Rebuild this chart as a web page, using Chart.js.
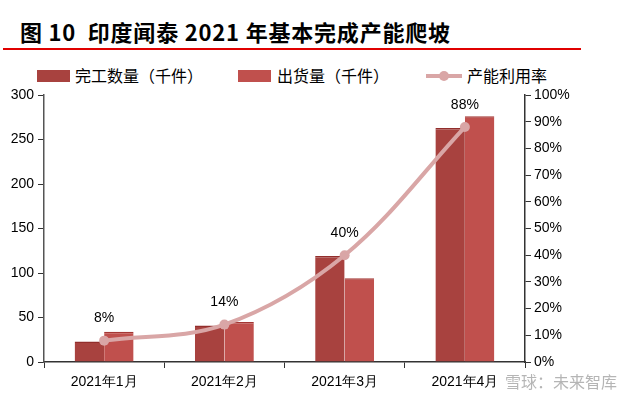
<!DOCTYPE html>
<html>
<head>
<meta charset="utf-8">
<script src="https://cdn.jsdelivr.net/npm/chart.js@4"></script>
<style>
  html, body { margin: 0; padding: 0; background: #fff; }
  #wrap { position: relative; width: 641px; height: 398px; overflow: hidden; }
  #title { position: absolute; left: 20px; top: 16px; font: bold 22px "Noto Sans CJK SC", sans-serif; color: #000; white-space: nowrap; letter-spacing: 0.8px; line-height: 30px; }
  #rule { position: absolute; left: 3px; top: 48px; width: 578px; height: 2px; background: #e00000; }
  .lg { position: absolute; top: 63px; font: 16px "Noto Sans CJK SC", sans-serif; color: #000; white-space: nowrap; line-height: 24px; }
  .box { position: absolute; top: 70px; width: 33px; height: 12px; }
  #mark { position: absolute; left: 505px; top: 369px; font: 16px "Noto Sans CJK SC", sans-serif; color: rgba(150,150,150,0.7); white-space: nowrap; }
  canvas { position: absolute; left: 0; top: 0; }
</style>
</head>
<body>
<div id="wrap">
  <div id="title">图 10&nbsp; 印度闻泰 2021 年基本完成产能爬坡</div>
  <div id="rule"></div>
  <div class="box" style="left:37px;background:#a8423f"></div>
  <div class="lg" style="left:75px">完工数量（千件）</div>
  <div class="box" style="left:238px;background:#c0504d"></div>
  <div class="lg" style="left:277px">出货量（千件）</div>
  <svg style="position:absolute;left:424px;top:68px" width="40" height="16">
    <line x1="2" y1="8" x2="38" y2="8" stroke="#d9a6a6" stroke-width="4"/>
    <circle cx="20" cy="8" r="5" fill="#d9a6a6"/>
  </svg>
  <div class="lg" style="left:467px">产能利用率</div>
  <canvas id="chart" width="641" height="398"></canvas>
  <div id="mark">雪球：未来智库</div>
</div>
<script>
// values
const months = ["2021年1月", "2021年2月", "2021年3月", "2021年4月"];
const finished = [23, 41, 119, 263];   // 完工数量（千件）
const shipped = [34, 45, 94, 276];     // 出货量（千件）
const utilization = [8, 14, 40, 88];   // 产能利用率 %

const tickFont = { family: "Liberation Sans", size: 14 };
const axisColor = "#333";

// percent labels above the line points
const pointLabels = {
    id: "pointLabels",
    afterDatasetsDraw(chart) {
        const meta = chart.getDatasetMeta(2);
        const ctx = chart.ctx;
        ctx.save();
        ctx.font = "14px 'Liberation Sans'";
        ctx.fillStyle = "#000";
        ctx.textAlign = "center";
        ctx.textBaseline = "middle";
        meta.data.forEach((pt, i) => {
            ctx.fillText(utilization[i] + "%", pt.x, pt.y - 22);
        });
        ctx.restore();
    }
};

new Chart(document.getElementById("chart"), {
    data: {
        labels: months,
        datasets: [
            {
                type: "bar", label: "完工数量（千件）", data: finished, yAxisID: "y",
                backgroundColor: "#a8423f", borderColor: "#922e2c",
                borderWidth: { top: 1.5, left: 0, right: 0, bottom: 0 }, borderSkipped: "bottom",
                barPercentage: 1, categoryPercentage: 0.49, order: 1
            },
            {
                type: "bar", label: "出货量（千件）", data: shipped, yAxisID: "y",
                backgroundColor: "#c0504d", borderColor: "#a43734",
                borderWidth: { top: 1.5, left: 0, right: 0, bottom: 0 }, borderSkipped: "bottom",
                barPercentage: 1, categoryPercentage: 0.49, order: 1
            },
            {
                type: "line", label: "产能利用率", data: utilization, yAxisID: "y1",
                borderColor: "#d9a6a6", backgroundColor: "#d9a6a6", borderWidth: 4,
                pointRadius: 5, pointBackgroundColor: "#d9a6a6", pointBorderWidth: 0,
                tension: 0.35, order: 0
            }
        ]
    },
    options: {
        responsive: false,
        animation: false,
        layout: { padding: { top: 95, left: 0, right: 0, bottom: 0 } },
        plugins: { legend: { display: false }, tooltip: { enabled: false } },
        scales: {
            x: {
                offset: true,
                grid: { display: true, drawOnChartArea: false, offset: true, tickLength: 6, color: axisColor },
                border: { display: true, color: axisColor, width: 1.5 },
                ticks: { font: tickFont, color: "#000", padding: 6, maxRotation: 0 },
                afterFit(s) { s.height = 36; }
            },
            y: {
                position: "left", min: 0, max: 300,
                ticks: { stepSize: 50, font: tickFont, color: "#000", padding: 4 },
                grid: { drawOnChartArea: false, tickLength: 6, color: axisColor },
                border: { display: true, color: "#555", width: 1.5 },
                afterFit(s) { s.width = 44; }
            },
            y1: {
                position: "right", min: 0, max: 100,
                ticks: { stepSize: 10, font: tickFont, color: "#000", padding: 3, callback: v => v + "%" },
                grid: { drawOnChartArea: false, tickLength: 6, color: axisColor },
                border: { display: true, color: axisColor, width: 1.5 },
                afterFit(s) { s.width = 116; }
            }
        }
    },
    plugins: [pointLabels]
});
</script>
</body>
</html>
